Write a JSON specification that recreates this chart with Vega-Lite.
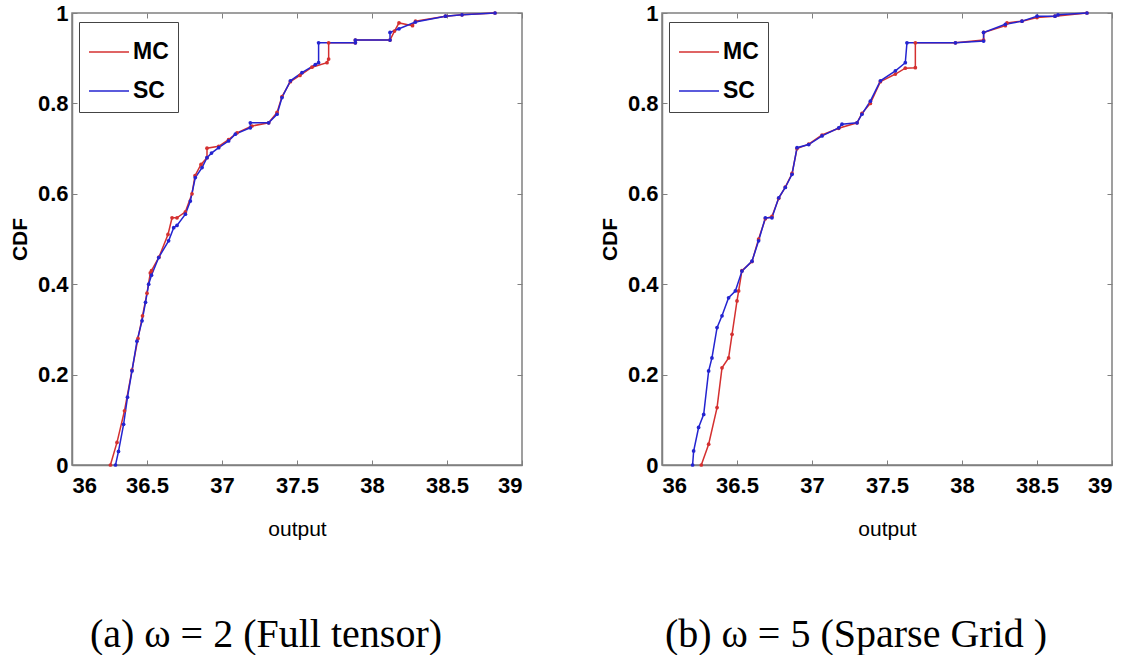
{
  "$schema": "https://vega.github.io/schema/vega-lite/v6.json",
  "padding": {"left": 8, "top": 1, "right": 12, "bottom": 0},
  "background": "white",
  "datasets": {
    "cdf": [
      {"panel": "a", "method": "MC", "output": 36.256, "cdf": 0},
      {"panel": "a", "method": "MC", "output": 36.30, "cdf": 0.05},
      {"panel": "a", "method": "MC", "output": 36.35, "cdf": 0.12},
      {"panel": "a", "method": "MC", "output": 36.40, "cdf": 0.21},
      {"panel": "a", "method": "MC", "output": 36.44, "cdf": 0.28},
      {"panel": "a", "method": "MC", "output": 36.47, "cdf": 0.33},
      {"panel": "a", "method": "MC", "output": 36.50, "cdf": 0.38},
      {"panel": "a", "method": "MC", "output": 36.522, "cdf": 0.425},
      {"panel": "a", "method": "MC", "output": 36.53, "cdf": 0.43},
      {"panel": "a", "method": "MC", "output": 36.58, "cdf": 0.46},
      {"panel": "a", "method": "MC", "output": 36.64, "cdf": 0.51},
      {"panel": "a", "method": "MC", "output": 36.667, "cdf": 0.547},
      {"panel": "a", "method": "MC", "output": 36.70, "cdf": 0.547},
      {"panel": "a", "method": "MC", "output": 36.756, "cdf": 0.56},
      {"panel": "a", "method": "MC", "output": 36.80, "cdf": 0.60},
      {"panel": "a", "method": "MC", "output": 36.82, "cdf": 0.64},
      {"panel": "a", "method": "MC", "output": 36.86, "cdf": 0.665},
      {"panel": "a", "method": "MC", "output": 36.90, "cdf": 0.68},
      {"panel": "a", "method": "MC", "output": 36.90, "cdf": 0.701},
      {"panel": "a", "method": "MC", "output": 36.978, "cdf": 0.705},
      {"panel": "a", "method": "MC", "output": 37.044, "cdf": 0.72},
      {"panel": "a", "method": "MC", "output": 37.10, "cdf": 0.735},
      {"panel": "a", "method": "MC", "output": 37.20, "cdf": 0.75},
      {"panel": "a", "method": "MC", "output": 37.311, "cdf": 0.757},
      {"panel": "a", "method": "MC", "output": 37.367, "cdf": 0.78},
      {"panel": "a", "method": "MC", "output": 37.40, "cdf": 0.815},
      {"panel": "a", "method": "MC", "output": 37.456, "cdf": 0.848},
      {"panel": "a", "method": "MC", "output": 37.52, "cdf": 0.862},
      {"panel": "a", "method": "MC", "output": 37.60, "cdf": 0.88},
      {"panel": "a", "method": "MC", "output": 37.70, "cdf": 0.89},
      {"panel": "a", "method": "MC", "output": 37.711, "cdf": 0.898},
      {"panel": "a", "method": "MC", "output": 37.711, "cdf": 0.934},
      {"panel": "a", "method": "MC", "output": 37.889, "cdf": 0.934},
      {"panel": "a", "method": "MC", "output": 37.889, "cdf": 0.94},
      {"panel": "a", "method": "MC", "output": 38.12, "cdf": 0.94},
      {"panel": "a", "method": "MC", "output": 38.15, "cdf": 0.96},
      {"panel": "a", "method": "MC", "output": 38.18, "cdf": 0.978},
      {"panel": "a", "method": "MC", "output": 38.27, "cdf": 0.972},
      {"panel": "a", "method": "MC", "output": 38.29, "cdf": 0.982},
      {"panel": "a", "method": "MC", "output": 38.49, "cdf": 0.993},
      {"panel": "a", "method": "MC", "output": 38.60, "cdf": 0.996},
      {"panel": "a", "method": "MC", "output": 38.82, "cdf": 1.0},
      {"panel": "a", "method": "SC", "output": 36.29, "cdf": 0},
      {"panel": "a", "method": "SC", "output": 36.31, "cdf": 0.03},
      {"panel": "a", "method": "SC", "output": 36.344, "cdf": 0.09},
      {"panel": "a", "method": "SC", "output": 36.37, "cdf": 0.15},
      {"panel": "a", "method": "SC", "output": 36.40, "cdf": 0.208},
      {"panel": "a", "method": "SC", "output": 36.433, "cdf": 0.274},
      {"panel": "a", "method": "SC", "output": 36.467, "cdf": 0.319},
      {"panel": "a", "method": "SC", "output": 36.49, "cdf": 0.36},
      {"panel": "a", "method": "SC", "output": 36.511, "cdf": 0.40},
      {"panel": "a", "method": "SC", "output": 36.53, "cdf": 0.42},
      {"panel": "a", "method": "SC", "output": 36.578, "cdf": 0.459},
      {"panel": "a", "method": "SC", "output": 36.644, "cdf": 0.496},
      {"panel": "a", "method": "SC", "output": 36.678, "cdf": 0.525},
      {"panel": "a", "method": "SC", "output": 36.70, "cdf": 0.53},
      {"panel": "a", "method": "SC", "output": 36.756, "cdf": 0.555},
      {"panel": "a", "method": "SC", "output": 36.789, "cdf": 0.584},
      {"panel": "a", "method": "SC", "output": 36.822, "cdf": 0.636},
      {"panel": "a", "method": "SC", "output": 36.867, "cdf": 0.658},
      {"panel": "a", "method": "SC", "output": 36.90, "cdf": 0.68},
      {"panel": "a", "method": "SC", "output": 36.93, "cdf": 0.69},
      {"panel": "a", "method": "SC", "output": 36.978, "cdf": 0.702},
      {"panel": "a", "method": "SC", "output": 37.044, "cdf": 0.717},
      {"panel": "a", "method": "SC", "output": 37.089, "cdf": 0.732},
      {"panel": "a", "method": "SC", "output": 37.189, "cdf": 0.746},
      {"panel": "a", "method": "SC", "output": 37.189, "cdf": 0.757},
      {"panel": "a", "method": "SC", "output": 37.311, "cdf": 0.757},
      {"panel": "a", "method": "SC", "output": 37.367, "cdf": 0.776},
      {"panel": "a", "method": "SC", "output": 37.40, "cdf": 0.813},
      {"panel": "a", "method": "SC", "output": 37.456, "cdf": 0.85},
      {"panel": "a", "method": "SC", "output": 37.533, "cdf": 0.868},
      {"panel": "a", "method": "SC", "output": 37.622, "cdf": 0.886},
      {"panel": "a", "method": "SC", "output": 37.644, "cdf": 0.89},
      {"panel": "a", "method": "SC", "output": 37.644, "cdf": 0.934},
      {"panel": "a", "method": "SC", "output": 37.889, "cdf": 0.934},
      {"panel": "a", "method": "SC", "output": 37.889, "cdf": 0.94},
      {"panel": "a", "method": "SC", "output": 38.12, "cdf": 0.94},
      {"panel": "a", "method": "SC", "output": 38.12, "cdf": 0.957},
      {"panel": "a", "method": "SC", "output": 38.18, "cdf": 0.965},
      {"panel": "a", "method": "SC", "output": 38.29, "cdf": 0.98},
      {"panel": "a", "method": "SC", "output": 38.49, "cdf": 0.993},
      {"panel": "a", "method": "SC", "output": 38.60, "cdf": 0.996},
      {"panel": "a", "method": "SC", "output": 38.82, "cdf": 1.0},
      {"panel": "b", "method": "MC", "output": 36.262, "cdf": 0},
      {"panel": "b", "method": "MC", "output": 36.311, "cdf": 0.046},
      {"panel": "b", "method": "MC", "output": 36.367, "cdf": 0.127},
      {"panel": "b", "method": "MC", "output": 36.40, "cdf": 0.215},
      {"panel": "b", "method": "MC", "output": 36.444, "cdf": 0.237},
      {"panel": "b", "method": "MC", "output": 36.467, "cdf": 0.289},
      {"panel": "b", "method": "MC", "output": 36.50, "cdf": 0.363},
      {"panel": "b", "method": "MC", "output": 36.511, "cdf": 0.385},
      {"panel": "b", "method": "MC", "output": 36.533, "cdf": 0.43},
      {"panel": "b", "method": "MC", "output": 36.60, "cdf": 0.45},
      {"panel": "b", "method": "MC", "output": 36.644, "cdf": 0.50},
      {"panel": "b", "method": "MC", "output": 36.689, "cdf": 0.545},
      {"panel": "b", "method": "MC", "output": 36.733, "cdf": 0.55},
      {"panel": "b", "method": "MC", "output": 36.778, "cdf": 0.59},
      {"panel": "b", "method": "MC", "output": 36.822, "cdf": 0.615},
      {"panel": "b", "method": "MC", "output": 36.867, "cdf": 0.645},
      {"panel": "b", "method": "MC", "output": 36.90, "cdf": 0.70},
      {"panel": "b", "method": "MC", "output": 36.978, "cdf": 0.71},
      {"panel": "b", "method": "MC", "output": 37.067, "cdf": 0.73},
      {"panel": "b", "method": "MC", "output": 37.178, "cdf": 0.745},
      {"panel": "b", "method": "MC", "output": 37.30, "cdf": 0.757},
      {"panel": "b", "method": "MC", "output": 37.333, "cdf": 0.778},
      {"panel": "b", "method": "MC", "output": 37.389, "cdf": 0.80},
      {"panel": "b", "method": "MC", "output": 37.456, "cdf": 0.848},
      {"panel": "b", "method": "MC", "output": 37.556, "cdf": 0.865},
      {"panel": "b", "method": "MC", "output": 37.622, "cdf": 0.878},
      {"panel": "b", "method": "MC", "output": 37.689, "cdf": 0.879},
      {"panel": "b", "method": "MC", "output": 37.689, "cdf": 0.934},
      {"panel": "b", "method": "MC", "output": 37.956, "cdf": 0.934},
      {"panel": "b", "method": "MC", "output": 38.144, "cdf": 0.94},
      {"panel": "b", "method": "MC", "output": 38.144, "cdf": 0.957},
      {"panel": "b", "method": "MC", "output": 38.289, "cdf": 0.972},
      {"panel": "b", "method": "MC", "output": 38.30, "cdf": 0.978},
      {"panel": "b", "method": "MC", "output": 38.40, "cdf": 0.982},
      {"panel": "b", "method": "MC", "output": 38.50, "cdf": 0.99},
      {"panel": "b", "method": "MC", "output": 38.62, "cdf": 0.993},
      {"panel": "b", "method": "MC", "output": 38.833, "cdf": 1.0},
      {"panel": "b", "method": "SC", "output": 36.204, "cdf": 0},
      {"panel": "b", "method": "SC", "output": 36.211, "cdf": 0.031},
      {"panel": "b", "method": "SC", "output": 36.244, "cdf": 0.083},
      {"panel": "b", "method": "SC", "output": 36.278, "cdf": 0.112},
      {"panel": "b", "method": "SC", "output": 36.311, "cdf": 0.208},
      {"panel": "b", "method": "SC", "output": 36.333, "cdf": 0.237},
      {"panel": "b", "method": "SC", "output": 36.367, "cdf": 0.304},
      {"panel": "b", "method": "SC", "output": 36.40, "cdf": 0.33},
      {"panel": "b", "method": "SC", "output": 36.444, "cdf": 0.37},
      {"panel": "b", "method": "SC", "output": 36.489, "cdf": 0.385},
      {"panel": "b", "method": "SC", "output": 36.533, "cdf": 0.429},
      {"panel": "b", "method": "SC", "output": 36.60, "cdf": 0.451},
      {"panel": "b", "method": "SC", "output": 36.644, "cdf": 0.496},
      {"panel": "b", "method": "SC", "output": 36.689, "cdf": 0.547},
      {"panel": "b", "method": "SC", "output": 36.733, "cdf": 0.547},
      {"panel": "b", "method": "SC", "output": 36.778, "cdf": 0.591},
      {"panel": "b", "method": "SC", "output": 36.822, "cdf": 0.614},
      {"panel": "b", "method": "SC", "output": 36.867, "cdf": 0.643},
      {"panel": "b", "method": "SC", "output": 36.90, "cdf": 0.702},
      {"panel": "b", "method": "SC", "output": 36.978, "cdf": 0.709},
      {"panel": "b", "method": "SC", "output": 37.067, "cdf": 0.728},
      {"panel": "b", "method": "SC", "output": 37.178, "cdf": 0.746},
      {"panel": "b", "method": "SC", "output": 37.20, "cdf": 0.754},
      {"panel": "b", "method": "SC", "output": 37.30, "cdf": 0.757},
      {"panel": "b", "method": "SC", "output": 37.333, "cdf": 0.776},
      {"panel": "b", "method": "SC", "output": 37.389, "cdf": 0.805},
      {"panel": "b", "method": "SC", "output": 37.456, "cdf": 0.85},
      {"panel": "b", "method": "SC", "output": 37.556, "cdf": 0.872},
      {"panel": "b", "method": "SC", "output": 37.622, "cdf": 0.89},
      {"panel": "b", "method": "SC", "output": 37.633, "cdf": 0.934},
      {"panel": "b", "method": "SC", "output": 37.956, "cdf": 0.934},
      {"panel": "b", "method": "SC", "output": 38.144, "cdf": 0.938},
      {"panel": "b", "method": "SC", "output": 38.144, "cdf": 0.957},
      {"panel": "b", "method": "SC", "output": 38.289, "cdf": 0.975},
      {"panel": "b", "method": "SC", "output": 38.40, "cdf": 0.982},
      {"panel": "b", "method": "SC", "output": 38.50, "cdf": 0.993},
      {"panel": "b", "method": "SC", "output": 38.62, "cdf": 0.993},
      {"panel": "b", "method": "SC", "output": 38.64, "cdf": 0.996},
      {"panel": "b", "method": "SC", "output": 38.833, "cdf": 1.0}
    ]
  },
  "config": {
    "view": {"stroke": "#808080", "strokeWidth": 1.5},
    "axis": {
      "grid": false,
      "domainColor": "#808080",
      "domainWidth": 1.5,
      "tickColor": "#808080",
      "tickSize": 5,
      "labelFont": "Liberation Sans",
      "labelFontWeight": "bold",
      "labelFontSize": 22,
      "labelColor": "black",
      "titleFont": "Liberation Sans",
      "titleFontSize": 21,
      "titleColor": "black"
    },
    "legend": {
      "labelFont": "Liberation Sans",
      "labelFontWeight": "bold",
      "labelFontSize": 23,
      "labelColor": "black"
    },
    "title": {
      "font": "Liberation Serif",
      "fontSize": 40,
      "fontWeight": "normal",
      "color": "black"
    }
  },
  "spacing": 74,
  "resolve": {"legend": {"color": "independent"}},
  "hconcat": [
    {
      "width": 450,
      "height": 452,
      "title": {"text": "(a) ω = 2 (Full tensor)", "orient": "bottom", "offset": 76, "frame": "bounds"},
      "data": {"name": "cdf"},
      "transform": [{"filter": "datum.panel === 'a'"}],
      "layer": [
        {
          "mark": {"type": "line", "strokeWidth": 1.5, "point": {"filled": true, "size": 14}},
          "encoding": {
            "x": {"field": "output", "type": "quantitative", "scale": {"domain": [36, 39], "nice": false},
              "axis": {"title": "output", "values": [36, 36.5, 37, 37.5, 38, 38.5, 39], "format": "~g", "tickSize": -5, "labelPadding": 15, "titlePadding": 22, "titleFontWeight": "normal"}},
            "y": {"field": "cdf", "type": "quantitative", "scale": {"domain": [0, 1], "nice": false},
              "axis": {"title": "CDF", "values": [0, 0.2, 0.4, 0.6, 0.8, 1], "format": "~g", "tickSize": -5, "labelPadding": 9, "titlePadding": 7, "titleFontWeight": "bold"}},
            "color": {"field": "method", "type": "nominal", "scale": {"domain": ["MC", "SC"], "range": ["#d43030", "#2424d0"]},
              "legend": {"title": null, "orient": "none", "legendX": 7, "legendY": 9, "symbolType": "stroke", "symbolSize": 1600, "symbolStrokeWidth": 1.5, "strokeColor": "#444", "fillColor": "white", "padding": 9, "rowPadding": 6, "labelOffset": 3}},
            "order": {"field": "method"}
          }
        },
        {
          "mark": {"type": "line", "opacity": 0},
          "encoding": {
            "x": {"field": "output", "type": "quantitative", "axis": {"orient": "top", "title": null, "labels": false, "domain": false, "values": [36, 36.5, 37, 37.5, 38, 38.5, 39], "tickSize": -5}},
            "y": {"field": "cdf", "type": "quantitative", "axis": {"orient": "right", "title": null, "labels": false, "domain": false, "values": [0, 0.2, 0.4, 0.6, 0.8, 1], "tickSize": -5}},
            "detail": {"field": "method"}
          }
        }
      ],
      "resolve": {"axis": {"x": "independent", "y": "independent"}}
    },
    {
      "width": 450,
      "height": 452,
      "title": {"text": "(b) ω = 5 (Sparse Grid )", "orient": "bottom", "offset": 76, "frame": "bounds"},
      "data": {"name": "cdf"},
      "transform": [{"filter": "datum.panel === 'b'"}],
      "layer": [
        {
          "mark": {"type": "line", "strokeWidth": 1.5, "point": {"filled": true, "size": 14}},
          "encoding": {
            "x": {"field": "output", "type": "quantitative", "scale": {"domain": [36, 39], "nice": false},
              "axis": {"title": "output", "values": [36, 36.5, 37, 37.5, 38, 38.5, 39], "format": "~g", "tickSize": -5, "labelPadding": 15, "titlePadding": 22, "titleFontWeight": "normal"}},
            "y": {"field": "cdf", "type": "quantitative", "scale": {"domain": [0, 1], "nice": false},
              "axis": {"title": "CDF", "values": [0, 0.2, 0.4, 0.6, 0.8, 1], "format": "~g", "tickSize": -5, "labelPadding": 9, "titlePadding": 7, "titleFontWeight": "bold"}},
            "color": {"field": "method", "type": "nominal", "scale": {"domain": ["MC", "SC"], "range": ["#d43030", "#2424d0"]},
              "legend": {"title": null, "orient": "none", "legendX": 7, "legendY": 9, "symbolType": "stroke", "symbolSize": 1600, "symbolStrokeWidth": 1.5, "strokeColor": "#444", "fillColor": "white", "padding": 9, "rowPadding": 6, "labelOffset": 3}},
            "order": {"field": "method"}
          }
        },
        {
          "mark": {"type": "line", "opacity": 0},
          "encoding": {
            "x": {"field": "output", "type": "quantitative", "axis": {"orient": "top", "title": null, "labels": false, "domain": false, "values": [36, 36.5, 37, 37.5, 38, 38.5, 39], "tickSize": -5}},
            "y": {"field": "cdf", "type": "quantitative", "axis": {"orient": "right", "title": null, "labels": false, "domain": false, "values": [0, 0.2, 0.4, 0.6, 0.8, 1], "tickSize": -5}},
            "detail": {"field": "method"}
          }
        }
      ],
      "resolve": {"axis": {"x": "independent", "y": "independent"}}
    }
  ]
}
